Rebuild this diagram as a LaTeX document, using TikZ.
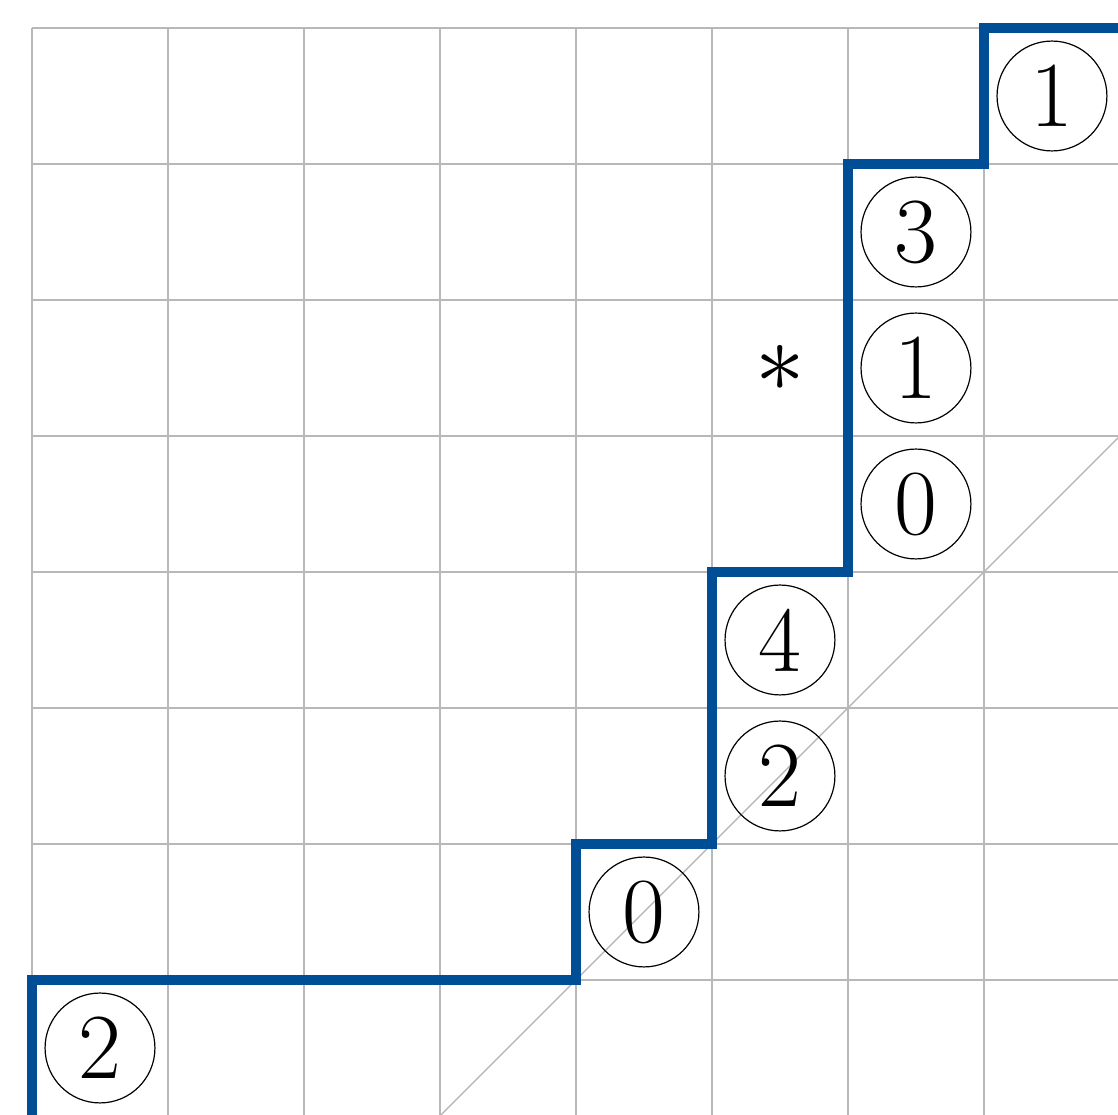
\documentclass[tikz,border=0pt]{standalone}
\definecolor{pathblue}{RGB}{0,78,150}
\begin{document}
\begin{tikzpicture}[x=1cm,y=1cm,
  lab/.style={circle,draw=black,line width=0.25pt,minimum size=0.808cm,inner sep=0pt,font=\fontsize{19.5}{23}\selectfont},
  gridline/.style={black!28,line width=0.3pt},
  stair/.style={pathblue,line width=2.2pt}]
\useasboundingbox (-0.2353,0.0074) rectangle (7.9853,8.2059);
\begin{scope}
\clip (-0.2353,0.0074) rectangle (7.9853,8.2059);
\draw[gridline] (0,0) grid (8,8);
\draw[gridline] (3,0) -- (8,5);
\coordinate (s) at (0,-0.5);
\coordinate (c1) at (4,1);
\coordinate (c2) at (5,2);
\coordinate (c3) at (6,4);
\coordinate (c4) at (7,7);
\coordinate (e) at (8.5,8);
\draw[stair] (s) |- (c1) |- (c2) |- (c3) |- (c4) |- (e);
\end{scope}
\node[lab] (n1) at (0.5,0.5) {2};
\node[lab] (n2) at (4.5,1.5) {0};
\node[lab] (n3) at (5.5,2.5) {2};
\node[lab] (n4) at (5.5,3.5) {4};
\node[lab] (n5) at (6.5,4.5) {0};
\node[lab] (n6) at (6.5,5.5) {1};
\node[lab] (n7) at (6.5,6.5) {3};
\node[lab] (n8) at (7.5,7.5) {1};
\node[font=\fontsize{19.5}{23}\selectfont] (star) at (5.5,5.5) {$*$};
\end{tikzpicture}
\end{document}
